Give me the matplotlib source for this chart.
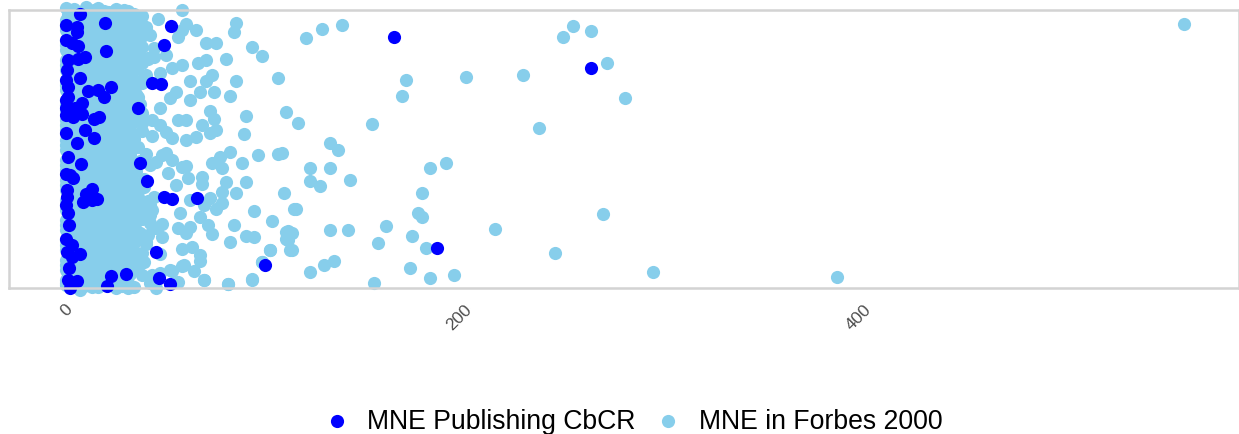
import matplotlib
matplotlib.use("Agg")
import matplotlib.pyplot as plt
from matplotlib.transforms import ScaledTranslation

plt.rcParams['font.family'] = ['Liberation Sans', 'DejaVu Sans']

# Value on the x axis, vertical jitter position
forbes_far_value = [560,386,294,271,263,254,249,280,269,237,245,229,200,215,170,168,190,182,178,176,178,173,180,172,182,194,154,156,160,153,142,136,132,132,122,122,127,132,141,134,129,122,111,115,111,113,102,98,93,81,69,59,52,120,128,138]
forbes_far_jitter = [265,12,17,226,258,263,252,191,75,161,36,214,212,60,209,193,126,121,96,76,72,53,41,21,11,14,6,46,63,165,109,139,146,121,121,108,103,59,59,28,24,17,58,80,49,39,39,27,9,5,9,24,19,251,260,264]

forbes_top_value = [85,84,70,75,93,98,80,66,70,106,85,70,73,82,74,67,62,62,90,110,72,74,89,116,72,75,68,65,60,56,60,65,60,58,46,38,35,36,40,42,56,58,50,58,53,47,40,43,47,53,50,38,44,41,33,30,33,55,52,47,43,38,33,38]
forbes_top_jitter = [266,257,246,246,242,233,230,226,229,211,208,208,214,193,197,197,208,189,173,177,178,170,155,166,156,159,164,152,149,169,169,259,265,279,270,273,273,263,259,254,252,259,234,224,221,216,214,153,164,151,157,242,241,231,236,252,219,197,191,181,169,166,201,206]

forbes_low_value = [96,106,108,82,77,73,78,88,80,90,68,68,61,55,51,58,60,109,85,78,78,72,69,75,94,114,67,57,44,62,103,84,71,73,56,60,62,110,113,110,90,94,82,112,102,58,63,67,67,58,64,53,69,81,93,98,56,47,48,45,48,43,38,33,38,43,47,42,34,31,25,45,7,13,0,38,40,33,28,32,35,41,32,33,37,42,33,35,50,53,45,48,42]
forbes_low_jitter = [134,135,136,137,132,126,121,126,107,107,112,105,111,104,116,122,123,96,96,97,86,91,84,80,78,80,72,76,92,89,68,64,64,55,61,56,62,57,56,50,53,52,47,39,39,40,42,34,28,23,18,18,9,5,10,27,7,35,52,61,65,79,84,82,14,14,16,6,2,1,1,1,-1,2,6,36,47,41,39,44,59,54,69,76,76,74,96,106,136,129,127,134,124]

forbes_dense_value = [
    0,4,9,13,16,21,24,28,31, 1,3,8,12,17,20,25,29,32, 0,5,7,13,15,22,24,27,33,
    1,4,9,11,17,19,26,28,31, 0,3,8,14,16,21,23,29,34, 2,5,7,12,18,20,25,27,32,
    0,4,10,13,15,22,24,30,33, 1,6,8,11,17,21,26,28,31, 0,3,9,14,16,19,25,29,35,
    1,5,7,12,18,22,23,27,32, 0,4,8,13,15,20,26,30,34, 2,3,10,11,17,21,24,28,31,
    0,6,9,14,16,19,25,29,33, 1,4,7,12,18,22,23,27,32, 0,5,8,13,15,20,26,30,31,
    1,3,10,11,17,21,24,28,34, 0,4,9,14,16,19,25,29,33, 2,6,7,12,18,22,23,27,31,
    0,5,8,13,15,20,26,30,32, 1,3,9,11,17,21,24,28,35, 0,4,10,14,16,19,25,29,33,
    2,5,7,12,18,22,23,27,31, 0,6,8,13,15,20,26,30,34, 1,3,9,11,17,21,24,28,32,
    0,4,10,14,16,19,25,29,31, 2,5,7,12,18,22,23,27,33, 0,6,8,13,15,20,26,30,32,
    1,3,9,11,17,21,24,28,34, 0,4,10,14,16,19,25,29,31,
]
forbes_dense_jitter = [
    4,7,3,6,2,5,8,3,6, 14,17,13,15,12,16,18,13,15, 24,27,23,26,22,25,28,23,26,
    34,36,33,35,32,37,38,33,35, 44,47,43,46,42,45,48,43,46, 54,56,53,55,52,57,58,53,55,
    64,67,63,66,62,65,68,63,66, 74,76,73,75,72,77,78,73,75, 84,87,83,86,82,85,88,83,86,
    94,96,93,95,92,97,98,93,95, 104,107,103,106,102,105,108,103,106, 114,116,113,115,112,117,118,113,115,
    124,127,123,126,122,125,128,123,126, 134,136,133,135,132,137,138,133,135, 144,147,143,146,142,145,148,143,146,
    154,156,153,155,152,157,158,153,155, 164,167,163,166,162,165,168,163,166, 174,176,173,175,172,177,178,173,175,
    184,187,183,186,182,185,188,183,186, 194,196,193,195,192,197,198,193,195, 204,207,203,206,202,205,208,203,206,
    214,216,213,215,212,217,218,213,215, 224,227,223,226,222,225,228,223,226, 234,236,233,235,232,237,238,233,235,
    244,247,243,246,242,245,248,243,246, 254,256,253,255,252,257,258,253,255, 264,267,263,266,262,265,268,263,266,
    274,276,273,275,272,277,278,273,275, 281,280,282,279,281,278,280,279,278,
]

forbes_fill_value = [
    0,2,6,10,14,19,23,26,30, 0,2,6,11,15,18,22,26,30, 0,3,6,10,14,19,23,27,30,
    0,2,7,10,14,18,22,26,31, 0,2,6,11,15,19,23,26,30, 0,3,6,10,14,18,22,27,30,
    0,2,7,10,15,19,23,26,30, 0,2,6,11,14,18,22,26,31, 0,3,6,10,15,19,23,27,30,
    0,2,7,10,14,18,22,26,30, 0,2,6,11,15,19,23,26,31, 0,3,6,10,14,18,22,27,30,
    0,2,7,10,15,19,23,26,30, 0,2,6,11,14,18,22,26,31, 0,3,6,10,15,19,23,27,30,
    0,2,7,10,14,18,22,26,30, 0,2,6,11,15,19,23,26,31, 0,3,6,10,14,18,22,27,30,
    0,2,7,10,15,19,23,26,30, 0,2,6,11,14,18,22,26,31, 0,3,6,10,15,19,23,27,30,
    0,2,7,10,14,18,22,26,30, 0,2,6,11,15,19,23,26,31, 0,3,6,10,14,18,22,27,30,
    0,2,7,10,15,19,23,26,30, 0,2,6,11,14,18,22,26,31, 0,3,6,10,15,19,23,27,30,
]
forbes_fill_jitter = [
    9,10,9,11,8,10,11,9,10, 19,21,19,20,18,22,20,19,21, 29,30,29,31,28,30,31,29,30,
    39,41,39,40,38,42,40,39,41, 49,50,49,51,48,50,51,49,50, 59,61,59,60,58,62,60,59,61,
    69,70,69,71,68,70,71,69,70, 79,81,79,80,78,82,80,79,81, 89,90,89,91,88,90,91,89,90,
    99,101,99,100,98,102,100,99,101, 109,110,109,111,108,110,111,109,110, 119,121,119,120,118,122,120,119,121,
    129,130,129,131,128,130,131,129,130, 139,141,139,140,138,142,140,139,141, 149,150,149,151,148,150,151,149,150,
    159,161,159,160,158,162,160,159,161, 169,170,169,171,168,170,171,169,170, 179,181,179,180,178,182,180,179,181,
    189,190,189,191,188,190,191,189,190, 199,201,199,200,198,202,200,199,201, 209,210,209,211,208,210,211,209,210,
    219,221,219,220,218,222,220,219,221, 229,230,229,231,228,230,231,229,230, 239,241,239,240,238,242,240,239,241,
    249,250,249,251,248,250,251,249,250, 259,261,259,260,258,262,260,259,261, 269,270,269,271,268,270,271,269,270,
]

forbes_edge_value = [36,39,35,40,37,34,42,38,35,41,36,39,34,37,40,36,34,38,35,37,36,34,39,35,38,41,36,34,37,40,35,39,36,42,37,34,38,44,35,40]
forbes_edge_jitter = [22,27,33,45,50,62,66,70,78,88,98,110,118,128,135,142,150,158,172,185,192,200,212,220,226,230,236,244,250,258,118,102,92,84,56,184,176,232,208,262]

cbcr_value = [7,0,5.5,5.5,19.5,52.5,0,3,6,20,49,9.5,6,1,0.5,0,7,1,1,0,11,16,19,22.5,43,47.5,8,0,4.5,3.5,8,0,36,16.5,14,0,9.5,14,5.5,164,263,1,7.5,37,2,0,3.5,40.5,0.5,13,10,0.5,8.5,13,15.5,0,1,1.5,0,3,0.5,7,3,45,1.5,99.5,30,22.5,46.5,65.5,49,53,1,5.5,20.5,52,2,185.5]
cbcr_jitter = [275,264,262,257,266,263,249,246,243,238,244,232,230,229,219,209,211,202,192,189,198,199,192,202,206,205,186,181,181,172,175,174,181,172,170,156,159,151,146,252,221,132,125,126,114,115,111,108,99,100,95,92,87,89,90,84,76,64,50,44,37,35,32,37,21,24,15,13,11,91,92,90,9,8,3,5,1,41]

tick_values = [0, 200, 400]
tick_labels = ['0', '200', '400']
legend_labels = ['MNE Publishing CbCR', 'MNE in Forbes 2000']

for a, b in [(forbes_far_value, forbes_far_jitter), (forbes_top_value, forbes_top_jitter),
             (forbes_low_value, forbes_low_jitter), (forbes_dense_value, forbes_dense_jitter),
             (forbes_fill_value, forbes_fill_jitter), (forbes_edge_value, forbes_edge_jitter),
             (cbcr_value, cbcr_jitter)]:
    assert len(a) == len(b), (len(a), len(b))

W, H = 1239, 435
fig = plt.figure(figsize=(W / 100, H / 100), dpi=100)
ax = fig.add_axes([9 / W, 1 - 288.8 / H, (W - 9) / W, 278 / H])

light = '#87CEEB'
dark = '#0000FF'
size = 90
forbes_x = forbes_dense_value + forbes_fill_value + forbes_edge_value + forbes_low_value + forbes_top_value + forbes_far_value
forbes_y = forbes_dense_jitter + forbes_fill_jitter + forbes_edge_jitter + forbes_low_jitter + forbes_top_jitter + forbes_far_jitter
ax.scatter(forbes_x, forbes_y, s=size, color=light, linewidths=0, clip_on=False, zorder=1, label=legend_labels[1])
ax.scatter(cbcr_value, cbcr_jitter, s=size, color=dark, linewidths=0, clip_on=False, zorder=1.5, label=legend_labels[0])

ax.set_xlim(-28.7, 587.5)
ax.set_ylim(0.8, 278.8)
ax.set_yticks([])
ax.set_xticks(tick_values)
ax.set_xticklabels(tick_labels, rotation=45, ha='right', va='top', fontsize=12.5, color='#4d4d4d')
ax.tick_params(axis='x', length=0, pad=9.5)
shift = ScaledTranslation(9.5 / 100, 0, fig.dpi_scale_trans)
for lab in ax.get_xticklabels():
    lab.set_transform(lab.get_transform() + shift)
for s in ax.spines.values():
    s.set_color('#d3d3d3')
    s.set_linewidth(1.8)
    s.set_zorder(2.5)

handles, labels = ax.get_legend_handles_labels()
leg = fig.legend(handles[::-1], labels[::-1], loc='center', bbox_to_anchor=(633 / W, 1 - 422 / H),
                 ncol=2, frameon=False, fontsize=19.2, markerscale=1.0,
                 handletextpad=0.65, columnspacing=0.72, borderpad=0, handlelength=1.0)
fig.savefig('out.png', dpi=100)
